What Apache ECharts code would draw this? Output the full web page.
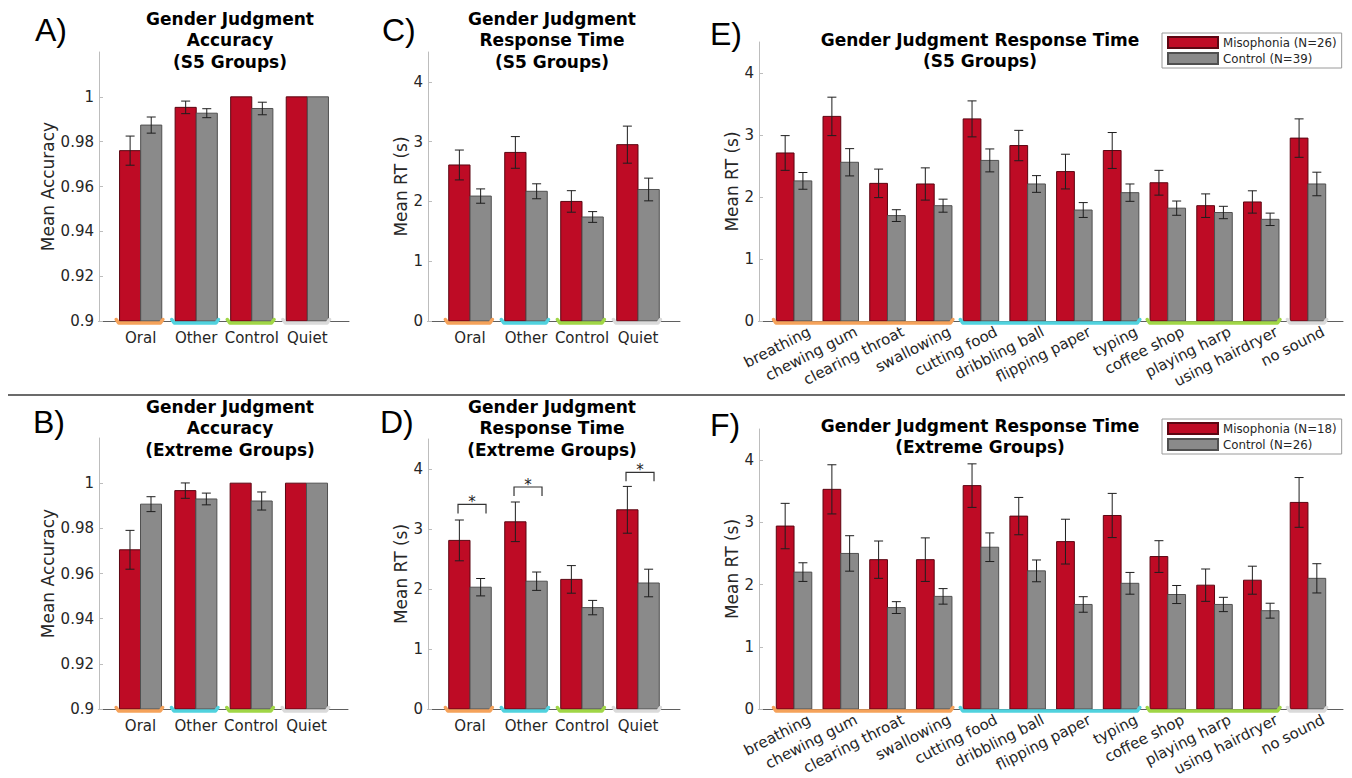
<!DOCTYPE html>
<html><head><meta charset="utf-8">
<script src="https://cdn.jsdelivr.net/npm/echarts@6/dist/echarts.min.js"></script>
<style>html,body{margin:0;padding:0;background:#fff}#c{width:1352px;height:778px}</style>
</head><body><div id="c"></div>
<script>
// ---------- categories & ticks ----------
const groupNames = ['Oral', 'Other', 'Control', 'Quiet'];
const soundNames = ['breathing', 'chewing gum', 'clearing throat', 'swallowing', 'cutting food', 'dribbling ball',
  'flipping paper', 'typing', 'coffee shop', 'playing harp', 'using hairdryer', 'no sound'];
const soundGroupOf = [0, 0, 0, 0, 1, 1, 1, 1, 2, 2, 2, 3];
const catGroupOf = [0, 1, 2, 3];
const accTicks = [0.9, 0.92, 0.94, 0.96, 0.98, 1];
const rtTicks = [0, 1, 2, 3, 4];

// ---------- A: accuracy, S5 groups ----------
const accS5Miso = [0.976, 0.9953, 1.0, 1.0];
const accS5MisoSem = [0.0065, 0.0028, 0, 0];
const accS5Ctrl = [0.9874, 0.9927, 0.9948, 1.0];
const accS5CtrlSem = [0.0036, 0.0020, 0.0028, 0];
// ---------- B: accuracy, extreme groups ----------
const accExMiso = [0.9705, 0.9967, 1.0, 1.0];
const accExMisoSem = [0.0086, 0.0034, 0, 0];
const accExCtrl = [0.9907, 0.9930, 0.9921, 1.0];
const accExCtrlSem = [0.0033, 0.0026, 0.0040, 0];
// ---------- C: RT, S5 groups ----------
const rtS5Miso = [2.61, 2.82, 2.00, 2.95];
const rtS5MisoSem = [0.25, 0.265, 0.18, 0.31];
const rtS5Ctrl = [2.09, 2.17, 1.74, 2.20];
const rtS5CtrlSem = [0.12, 0.125, 0.09, 0.19];
// ---------- D: RT, extreme groups ----------
const rtExMiso = [2.81, 3.12, 2.16, 3.32];
const rtExMisoSem = [0.34, 0.33, 0.23, 0.39];
const rtExCtrl = [2.03, 2.13, 1.69, 2.10];
const rtExCtrlSem = [0.145, 0.153, 0.12, 0.23];
const sigCats = [1, 2, 4];
const sigY = [3.41, 3.70, 3.945];
// ---------- E: RT per sound, S5 groups ----------
const sndS5Miso = [2.71, 3.30, 2.22, 2.21, 3.26, 2.83, 2.41, 2.75, 2.23, 1.86, 1.92, 2.95];
const sndS5MisoSem = [0.28, 0.31, 0.23, 0.26, 0.29, 0.245, 0.28, 0.29, 0.20, 0.19, 0.18, 0.31];
const sndS5Ctrl = [2.26, 2.56, 1.70, 1.86, 2.59, 2.21, 1.79, 2.07, 1.82, 1.75, 1.64, 2.21];
const sndS5CtrlSem = [0.135, 0.22, 0.095, 0.105, 0.185, 0.135, 0.12, 0.14, 0.115, 0.10, 0.10, 0.19];
// ---------- F: RT per sound, extreme groups ----------
const sndExMiso = [2.94, 3.53, 2.40, 2.40, 3.59, 3.10, 2.69, 3.11, 2.45, 1.99, 2.07, 3.32];
const sndExMisoSem = [0.365, 0.395, 0.30, 0.35, 0.35, 0.30, 0.36, 0.355, 0.255, 0.26, 0.225, 0.40];
const sndExCtrl = [2.20, 2.50, 1.63, 1.81, 2.60, 2.22, 1.68, 2.02, 1.84, 1.68, 1.58, 2.10];
const sndExCtrlSem = [0.15, 0.285, 0.095, 0.125, 0.23, 0.175, 0.125, 0.175, 0.145, 0.115, 0.12, 0.235];

// ---------- styles ----------
const RED = '#BE0B25', GRAY = '#8A8A8A';
const RED_EDGE = '#5c0612', GRAY_EDGE = '#505050';
const groupColors = ['#F5A25A', '#50D2DE', '#A0D646', '#DADADA'];
const FONT = 'DejaVu Sans';
const TXT = '#262626';
const BAR_W = 0.38;

const panels = [
  { letter: 'A)', title: 'Gender Judgment\nAccuracy\n(S5 Groups)', tx: 230, ty: 8, lx: 35, ly: 30,
    grid: { left: 99, top: 52, width: 250, height: 269 }, ymin: 0.9, ymax: 1.02, ticks: accTicks,
    yname: 'Mean Accuracy', nameGap: 43, cats: groupNames, groupOf: catGroupOf, rotate: false,
    miso: accS5Miso, misoSem: accS5MisoSem, ctrl: accS5Ctrl, ctrlSem: accS5CtrlSem },
  { letter: 'C)', title: 'Gender Judgment\nResponse Time\n(S5 Groups)', tx: 552, ty: 8, lx: 382, ly: 30,
    grid: { left: 428, top: 52, width: 252, height: 269 }, ymin: 0, ymax: 4.5, ticks: rtTicks,
    yname: 'Mean RT (s)', nameGap: 18, cats: groupNames, groupOf: catGroupOf, rotate: false,
    miso: rtS5Miso, misoSem: rtS5MisoSem, ctrl: rtS5Ctrl, ctrlSem: rtS5CtrlSem },
  { letter: 'E)', title: 'Gender Judgment Response Time\n(S5 Groups)', tx: 980, ty: 29, lx: 710, ly: 34,
    grid: { left: 759, top: 42, width: 584, height: 279 }, ymin: 0, ymax: 4.5, ticks: rtTicks,
    yname: 'Mean RT (s)', nameGap: 18, cats: soundNames, groupOf: soundGroupOf, rotate: true,
    miso: sndS5Miso, misoSem: sndS5MisoSem, ctrl: sndS5Ctrl, ctrlSem: sndS5CtrlSem,
    legend: { top: 33, names: ['Misophonia (N=26)', 'Control (N=39)'] } },
  { letter: 'B)', title: 'Gender Judgment\nAccuracy\n(Extreme Groups)', tx: 230, ty: 396, lx: 33, ly: 422,
    grid: { left: 99, top: 438, width: 249, height: 271 }, ymin: 0.9, ymax: 1.02, ticks: accTicks,
    yname: 'Mean Accuracy', nameGap: 43, cats: groupNames, groupOf: catGroupOf, rotate: false,
    miso: accExMiso, misoSem: accExMisoSem, ctrl: accExCtrl, ctrlSem: accExCtrlSem },
  { letter: 'D)', title: 'Gender Judgment\nResponse Time\n(Extreme Groups)', tx: 552, ty: 396, lx: 380, ly: 422,
    grid: { left: 428, top: 439, width: 252, height: 270 }, ymin: 0, ymax: 4.5, ticks: rtTicks,
    yname: 'Mean RT (s)', nameGap: 18, cats: groupNames, groupOf: catGroupOf, rotate: false,
    miso: rtExMiso, misoSem: rtExMisoSem, ctrl: rtExCtrl, ctrlSem: rtExCtrlSem, sig: true },
  { letter: 'F)', title: 'Gender Judgment Response Time\n(Extreme Groups)', tx: 980, ty: 415, lx: 710, ly: 425,
    grid: { left: 759, top: 429, width: 584, height: 280 }, ymin: 0, ymax: 4.5, ticks: rtTicks,
    yname: 'Mean RT (s)', nameGap: 18, cats: soundNames, groupOf: soundGroupOf, rotate: true,
    miso: sndExMiso, misoSem: sndExMisoSem, ctrl: sndExCtrl, ctrlSem: sndExCtrlSem,
    legend: { top: 419, names: ['Misophonia (N=18)', 'Control (N=26)'] } }
];

function fmt(v) { return String(Math.round(v * 100) / 100); }

function barItem(side, base) {
  return function (params, api) {
    const x = api.value(0), v = api.value(1), e = api.value(2);
    const xl = side < 0 ? x - BAR_W : x, xr = side < 0 ? x : x + BAR_W;
    const p0 = api.coord([xl, v]), p1 = api.coord([xr, base]);
    const children = [{
      type: 'rect',
      shape: { x: p0[0], y: p0[1], width: p1[0] - p0[0], height: p1[1] - p0[1] },
      style: { fill: side < 0 ? RED : GRAY, stroke: side < 0 ? RED_EDGE : GRAY_EDGE, lineWidth: 1 }
    }];
    if (e > 0) {
      const xc = (xl + xr) / 2;
      const t = api.coord([xc, v + e]), b = api.coord([xc, v - e]);
      const cw = 4.5, st = { stroke: '#1e1e1e', lineWidth: 1 };
      children.push({ type: 'line', shape: { x1: t[0], y1: t[1], x2: b[0], y2: b[1] }, style: st });
      children.push({ type: 'line', shape: { x1: t[0] - cw, y1: t[1], x2: t[0] + cw, y2: t[1] }, style: st });
      children.push({ type: 'line', shape: { x1: b[0] - cw, y1: b[1], x2: b[0] + cw, y2: b[1] }, style: st });
    }
    return { type: 'group', children };
  };
}

const option = {
  animation: false,
  backgroundColor: '#fff',
  grid: [], xAxis: [], yAxis: [], series: [], legend: [],
  graphic: [{
    type: 'line', shape: { x1: 8, y1: 395, x2: 1345, y2: 395 },
    style: { stroke: '#3a3a3a', lineWidth: 1.5 }
  }]
};

panels.forEach((p, k) => {
  const n = p.cats.length;
  option.grid.push(p.grid);
  option.xAxis.push({
    type: 'value', gridIndex: k, min: 0.25, max: n + 0.75,
    axisLine: { show: true, lineStyle: { color: '#5f5f5f', width: 1 } },
    axisTick: { show: false }, axisLabel: { show: false }, splitLine: { show: false }
  });
  option.yAxis.push({
    type: 'value', gridIndex: k, min: p.ymin, max: p.ymax,
    name: p.yname, nameLocation: 'middle', nameGap: p.nameGap,
    nameTextStyle: { fontSize: 17, fontFamily: FONT, color: TXT },
    axisLine: { show: true, lineStyle: { color: '#BDBDBD', width: 1 } },
    axisTick: { show: true, inside: true, length: 4, customValues: p.ticks, lineStyle: { color: '#BDBDBD' } },
    axisLabel: { customValues: p.ticks, fontSize: 15, fontFamily: FONT, color: TXT, margin: 5, formatter: fmt },
    splitLine: { show: false }
  });
  const mName = p.legend ? p.legend.names[0] : 'Misophonia ' + p.letter;
  const cName = p.legend ? p.legend.names[1] : 'Control ' + p.letter;
  option.series.push({
    type: 'custom', name: mName, xAxisIndex: k, yAxisIndex: k,
    itemStyle: { color: RED, borderColor: RED_EDGE, borderWidth: 1 },
    renderItem: barItem(-1, p.ymin),
    data: p.miso.map((v, i) => [i + 1, v, p.misoSem[i]])
  });
  option.series.push({
    type: 'custom', name: cName, xAxisIndex: k, yAxisIndex: k,
    itemStyle: { color: GRAY, borderColor: GRAY_EDGE, borderWidth: 1 },
    renderItem: barItem(1, p.ymin),
    data: p.ctrl.map((v, i) => [i + 1, v, p.ctrlSem[i]])
  });
  // group brackets along the x axis
  const groups = [];
  p.groupOf.forEach((g, i) => {
    if (!groups[g]) groups[g] = [i + 1, i + 1, g];
    else groups[g][1] = i + 1;
  });
  option.series.push({
    type: 'custom', name: 'groups ' + p.letter, xAxisIndex: k, yAxisIndex: k, silent: true, z: 5,
    renderItem: (params, api) => {
      const a = api.value(0) - 0.44, b = api.value(1) + 0.40, g = api.value(2);
      const p0 = api.coord([a, p.ymin]), p1 = api.coord([b, p.ymin]);
      const y = p0[1] + 2;
      return {
        type: 'polyline',
        shape: { points: [[p0[0], y - 3.5], [p0[0] + 2.5, y], [p1[0] - 2.5, y], [p1[0], y - 3.5]] },
        style: { stroke: groupColors[g], lineWidth: 3.5, fill: null, lineCap: 'round', lineJoin: 'round' }
      };
    },
    data: groups
  });
  // category labels
  option.series.push({
    type: 'custom', name: 'labels ' + p.letter, xAxisIndex: k, yAxisIndex: k, silent: true,
    renderItem: (params, api) => {
      const c = api.coord([api.value(0), p.ymin]);
      const label = p.cats[params.dataIndex];
      if (p.rotate) {
        return {
          type: 'text', x: c[0] + 12, y: c[1] + 3, rotation: 27 * Math.PI / 180,
          style: { text: label, fill: TXT, font: '15px "' + FONT + '"', align: 'right', verticalAlign: 'top' }
        };
      }
      return {
        type: 'text', x: c[0], y: c[1] + 17,
        style: { text: label, fill: TXT, font: '15px "' + FONT + '"', align: 'center', verticalAlign: 'middle' }
      };
    },
    data: p.cats.map((c, i) => [i + 1, p.ymin])
  });
  if (p.sig) {
    option.series.push({
      type: 'custom', name: 'sig ' + p.letter, xAxisIndex: k, yAxisIndex: k, silent: true,
      renderItem: (params, api) => {
        const c = api.value(0), y = api.value(1);
        const a = api.coord([c - 0.214, y]), b = api.coord([c + 0.286, y]), m = api.coord([c + 0.036, y]);
        return {
          type: 'group', children: [
            { type: 'polyline', shape: { points: [[a[0], a[1] + 9], [a[0], a[1]], [b[0], b[1]], [b[0], b[1] + 9]] },
              style: { stroke: '#333', lineWidth: 1.2, fill: null } },
            { type: 'text', x: m[0], y: m[1] - 2.5,
              style: { text: '*', font: '15px "' + FONT + '"', fill: '#222', align: 'center', verticalAlign: 'middle' } }
          ]
        };
      },
      data: sigCats.map((c, i) => [c, sigY[i]])
    });
  }
  if (p.legend) {
    option.legend.push({
      data: [{ name: mName, icon: 'rect' }, { name: cName, icon: 'rect' }],
      left: 1162, top: p.legend.top, orient: 'vertical', itemWidth: 50, itemHeight: 11, itemGap: 3,
      padding: [3, 5, 3, 5], borderColor: '#9a9a9a', borderWidth: 1, backgroundColor: '#fff',
      selectedMode: false,
      textStyle: { fontSize: 11.8, fontFamily: FONT, color: TXT }
    });
  }
  option.graphic.push({
    type: 'text', x: p.tx, y: p.ty,
    style: { text: p.title, font: 'bold 17px "' + FONT + '"', fill: '#000', align: 'center', verticalAlign: 'top', lineHeight: 21.5 }
  });
  option.graphic.push({
    type: 'text', x: p.lx, y: p.ly,
    style: { text: p.letter, font: '32px "Liberation Sans"', fill: '#000', align: 'left', verticalAlign: 'middle' }
  });
});

const chart = echarts.init(document.getElementById('c'), null, { renderer: 'svg' });
chart.setOption(option);
</script>
</body></html>
